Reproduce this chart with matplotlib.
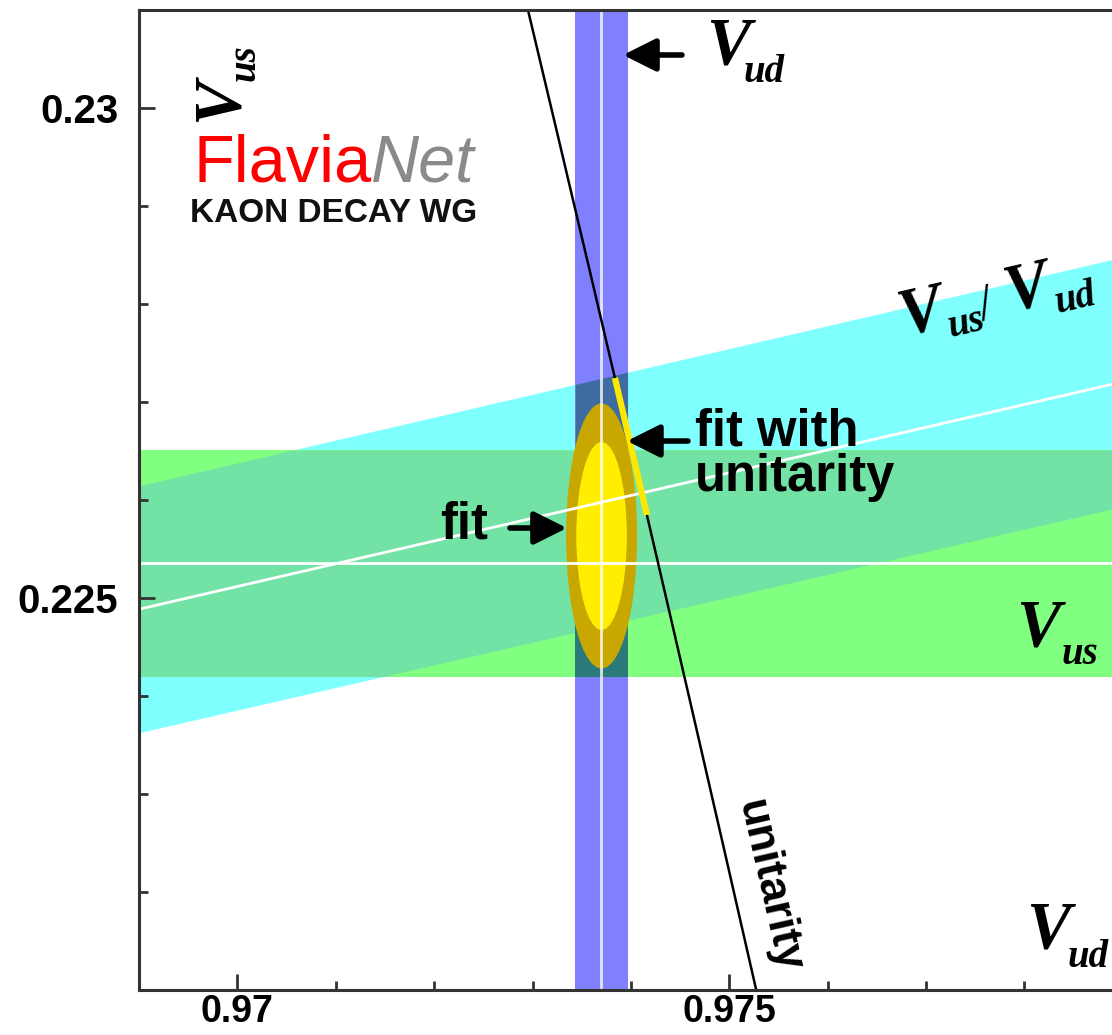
import numpy as np
import matplotlib.pyplot as plt
from matplotlib.patches import Ellipse
from matplotlib.ticker import MultipleLocator

plt.rcParams['font.family'] = ['Liberation Sans', 'DejaVu Sans']

# |Vud| from superallowed 0+ -> 0+ decays
vud = 0.97370
vud_err = 0.000266

# |Vus| from Kl3 decays
vus = 0.225354
vus_err = 0.001156

# |Vus/Vud| from Kl2 / pi l2
ratio = 0.23208
ratio_err = 0.0013

# fit: centre and half axes of the two contours (inner, outer)
fit_vud = 0.973702
fit_vus = 0.225633
fit_half_w = [0.000257, 0.000361]
fit_half_h = [0.000959, 0.001352]

# fit with unitarity constraint (range in Vus along the unitarity curve)
unit_fit_vus = [0.225847, 0.227245]

xlim = (0.969, 0.9795)
ylim = (0.221, 0.231)
xticks = [0.97, 0.975]
xtick_labels = ['0.97', '0.975']
yticks = [0.225, 0.23]
ytick_labels = ['0.225', '0.23']

c_blue = '#8080ff'
c_cyan = '#80ffff'
c_green = '#80ff80'
c_green_cyan = '#72e3a5'
c_blue_cyan = '#3f6ca0'
c_blue_green = '#2a7a7a'

fig = plt.figure(figsize=(11.12, 10.35), dpi=100)
ax = fig.add_axes([139 / 1112, 45 / 1035, 1033 / 1112, 980 / 1035])
ax.set_xlim(*xlim)
ax.set_ylim(*ylim)

# bands
x = np.linspace(*xlim, 400)
r_lo = (ratio - ratio_err) * x
r_hi = (ratio + ratio_err) * x
g_lo = vus - vus_err
g_hi = vus + vus_err
ax.fill_between(x, r_lo, r_hi, color=c_cyan, lw=0)
ax.axhspan(g_lo, g_hi, color=c_green, lw=0)
lo = np.maximum(r_lo, g_lo)
hi = np.minimum(r_hi, g_hi)
ax.fill_between(x, lo, hi, where=hi > lo, interpolate=True, color=c_green_cyan, lw=0)

ax.axvspan(vud - vud_err, vud + vud_err, color=c_blue, lw=0)
xb = np.linspace(vud - vud_err, vud + vud_err, 20)
ax.fill_between(xb, (ratio - ratio_err) * xb, (ratio + ratio_err) * xb, color=c_blue_cyan, lw=0)
ax.fill_between(xb, g_lo, g_hi, color=c_blue_green, lw=0)

# central values
ax.plot(x, ratio * x, color='white', lw=2)
ax.axhline(vus, color='white', lw=2)
ax.axvline(vud, color='white', lw=2, alpha=0.8)

# unitarity: Vud^2 + Vus^2 = 1
vs = np.linspace(*ylim, 200)
ax.plot(np.sqrt(1 - vs**2), vs, color='black', lw=1.8)

# fit contours
ax.add_patch(Ellipse((fit_vud, fit_vus), 2 * fit_half_w[1], 2 * fit_half_h[1],
                     color='#c8a800', lw=0))
ax.add_patch(Ellipse((fit_vud, fit_vus), 2 * fit_half_w[0], 2 * fit_half_h[0],
                     color='#ffee00', lw=0))

vs_u = np.linspace(*unit_fit_vus, 50)
ax.plot(np.sqrt(1 - vs_u**2), vs_u, color='#ffe800', lw=4.5, solid_capstyle='butt')


def vlabel(x0, y0, sub, rot=0, size=48, sub_size=28, along=42, drop=19):
    t = np.radians(rot)
    kw = dict(family='Liberation Serif', style='italic', weight='bold',
              rotation=rot, rotation_mode='anchor', ha='left', va='baseline')
    ax.text(x0, y0, 'V', fontsize=size, **kw)
    dx = along * np.cos(t) + drop * np.sin(t)
    dy = along * np.sin(t) - drop * np.cos(t)
    ax.annotate(sub, (x0, y0), xytext=(dx, dy), textcoords='offset pixels',
                fontsize=sub_size, **kw)


def arrow(x0, y0, x1, y1):
    ax.annotate('', xy=(x1, y1), xytext=(x0, y0),
                arrowprops=dict(arrowstyle='-|>,head_length=1.0,head_width=0.5',
                                lw=4, color='black', shrinkA=0, shrinkB=0,
                                mutation_scale=20))


# axis titles
vlabel(0.969996, 0.229857, 'us', rot=90, along=41, drop=18)
vlabel(0.978016, 0.221429, 'ud')

# band labels
vlabel(0.974763, 0.230459, 'ud', along=38)
arrow(0.974519, 0.230541, 0.973920, 0.230541)
vlabel(0.977914, 0.224520, 'us', along=46)

rot = 13
t = np.radians(rot)
x0, y0 = 0.976766, 0.227684
vlabel(x0, y0, 'us', rot=rot, along=46, drop=13)
ax.annotate('/', (x0, y0), xytext=(80 * np.cos(t) + 4 * np.sin(t), 80 * np.sin(t) - 4 * np.cos(t)),
            textcoords='offset pixels', fontsize=38, family='Liberation Serif',
            rotation=rot, rotation_mode='anchor', ha='left', va='baseline')
ax.annotate('V', (x0, y0), xytext=(108 * np.cos(t), 108 * np.sin(t)),
            textcoords='offset pixels', fontsize=48, family='Liberation Serif',
            style='italic', weight='bold', rotation=rot, rotation_mode='anchor',
            ha='left', va='baseline')
ax.annotate('ud', (x0, y0), xytext=(156 * np.cos(t) + 13 * np.sin(t), 156 * np.sin(t) - 13 * np.cos(t)),
            textcoords='offset pixels', fontsize=28, family='Liberation Serif',
            style='italic', weight='bold', rotation=rot, rotation_mode='anchor',
            ha='left', va='baseline')

# fit labels
ax.text(0.974652, 0.226561, 'fit with', fontsize=36.5, weight='bold', va='baseline')
ax.text(0.974652, 0.226090, 'unitarity', fontsize=36.5, weight='bold', va='baseline')
arrow(0.974580, 0.226602, 0.973960, 0.226602)
ax.text(0.972060, 0.225612, 'fit', fontsize=36.5, weight='bold', va='baseline')
arrow(0.972771, 0.225714, 0.973350, 0.225714)

ax.text(0.975089, 0.222908, 'unitarity', fontsize=32, weight='bold', rotation=-77.2,
        rotation_mode='anchor', ha='left', va='baseline')

# logo
flavia = ax.text(0.969549, 0.229245, 'Flavia', fontsize=48, color='#ff0000', va='baseline')
ax.annotate('Net', xy=(1, 0), xycoords=flavia, fontsize=48, color='#8a8a8a',
            style='italic', va='bottom', ha='left')
ax.text(0.969518, 0.228837, 'KAON DECAY WG', fontsize=24, weight='bold',
        color='#111111', va='baseline')

# axes
ax.set_xticks(xticks, labels=xtick_labels, fontsize=27, fontweight='bold')
ax.set_yticks(yticks, labels=ytick_labels, fontsize=29, fontweight='bold')
ax.xaxis.set_minor_locator(MultipleLocator(0.001))
ax.yaxis.set_minor_locator(MultipleLocator(0.001))
ax.tick_params(which='both', direction='in', top=False, right=False,
               width=2, color='#333333')
ax.tick_params(which='major', length=11.5)
ax.tick_params(which='minor', length=6.5)
ax.tick_params(axis='x', pad=3)
ax.tick_params(axis='y', pad=15)
ax.spines['right'].set_visible(False)
for s in ('left', 'bottom', 'top'):
    ax.spines[s].set_linewidth(2.2)
    ax.spines[s].set_color('#333333')

fig.savefig('out.png', dpi=100)
